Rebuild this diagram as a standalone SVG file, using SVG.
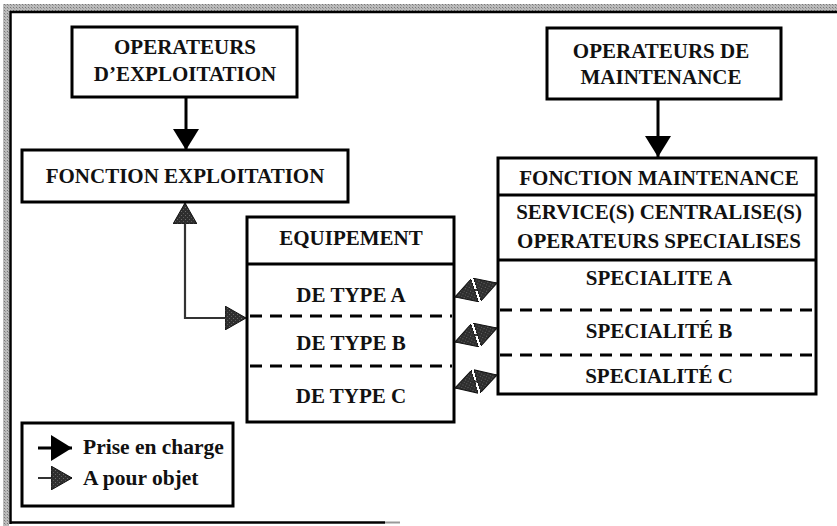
<svg xmlns="http://www.w3.org/2000/svg" width="837" height="526" viewBox="0 0 837 526">
<defs>
<style>
.box{fill:#fff;stroke:#000;stroke-width:3}
.div{stroke:#000;stroke-width:3;fill:none}
.dash{stroke:#000;stroke-width:3;stroke-dasharray:12 8;fill:none}
.t{font-family:"Liberation Serif","Times New Roman",serif;font-weight:bold;font-size:21px;fill:#111;text-anchor:middle}
.lg{font-family:"Liberation Serif","Times New Roman",serif;font-weight:bold;font-size:21.5px;fill:#111}
.pec{stroke:#000;stroke-width:3;fill:none}
.apo{stroke:#333;stroke-width:2.2;fill:none}
</style>
<pattern id="stip" width="4" height="4" patternUnits="userSpaceOnUse">
<rect width="4" height="4" fill="#2e2e2e"/>
<rect x="0" y="0" width="1" height="1" fill="#6a6a6a"/>
<rect x="2" y="2" width="1" height="1" fill="#5a5a5a"/>
</pattern>
<pattern id="frame" width="3" height="3" patternUnits="userSpaceOnUse">
<rect width="3" height="3" fill="#bbb"/>
<rect x="1" y="1" width="1" height="1" fill="#777"/>
<rect x="2" y="2" width="1" height="1" fill="#999"/>
</pattern>
<marker id="mPec" markerUnits="userSpaceOnUse" markerWidth="22" markerHeight="26" refX="21" refY="13" orient="auto-start-reverse" viewBox="0 0 22 26">
<path d="M0,0 L21,13 L0,26 Z" fill="#000"/>
</marker>
<marker id="mApo" markerUnits="userSpaceOnUse" markerWidth="22" markerHeight="24" refX="21" refY="12" orient="auto-start-reverse" viewBox="0 0 22 24">
<path d="M0,0 L21,12 L0,24 Z" fill="url(#stip)" stroke="#111" stroke-width="1"/>
</marker>
</defs>
<rect width="837" height="526" fill="#fff"/>
<g id="frame-border">
<rect x="3" y="4" width="834" height="7" fill="url(#frame)"/>
<rect x="3" y="4" width="6" height="522" fill="url(#frame)"/>
<line x1="10" y1="12" x2="837" y2="12" stroke="#000" stroke-width="2.5"/>
<line x1="10.5" y1="11" x2="10.5" y2="524" stroke="#000" stroke-width="2.5"/>
<line x1="10" y1="522.5" x2="385" y2="522.5" stroke="#000" stroke-width="2.5"/>
<line x1="385" y1="522.5" x2="400" y2="522.5" stroke="#999" stroke-width="2"/>
</g>
<g id="op-exploitation">
<rect class="box" x="72" y="27" width="225" height="70"/>
<text class="t" x="185" y="54">OPERATEURS</text>
<text class="t" x="185" y="81">D’EXPLOITATION</text>
</g>
<g id="op-maintenance">
<rect class="box" x="547" y="28" width="234" height="71"/>
<text class="t" x="661" y="58">OPERATEURS DE</text>
<text class="t" x="661" y="84">MAINTENANCE</text>
</g>
<g id="fonction-exploitation">
<rect class="box" x="22" y="150" width="326" height="52"/>
<text class="t" x="185" y="183">FONCTION EXPLOITATION</text>
</g>
<g id="fonction-maintenance">
<rect class="box" x="498" y="158" width="318" height="236"/>
<text class="t" x="659" y="185">FONCTION MAINTENANCE</text>
<line class="div" x1="498" y1="195" x2="816" y2="195"/>
<text class="t" x="659" y="219">SERVICE(S) CENTRALISE(S)</text>
<text class="t" x="659" y="248">OPERATEURS SPECIALISES</text>
<line class="div" x1="498" y1="260" x2="816" y2="260"/>
<text class="t" x="659" y="285">SPECIALITE A</text>
<line class="dash" x1="500" y1="310" x2="815" y2="310"/>
<text class="t" x="659" y="338">SPECIALITÉ B</text>
<line class="dash" x1="500" y1="355" x2="815" y2="355"/>
<text class="t" x="659" y="383">SPECIALITÉ C</text>
</g>
<g id="equipement">
<rect class="box" x="247" y="217" width="207" height="205"/>
<text class="t" x="351" y="245">EQUIPEMENT</text>
<line class="div" x1="247" y1="264" x2="454" y2="264"/>
<text class="t" x="351" y="302">DE TYPE A</text>
<line class="dash" x1="250" y1="316" x2="452" y2="316"/>
<text class="t" x="351" y="350">DE TYPE B</text>
<line class="dash" x1="250" y1="366" x2="452" y2="366"/>
<text class="t" x="351" y="403">DE TYPE C</text>
</g>
<g id="connectors">
<line class="pec" x1="186" y1="97" x2="186" y2="150" marker-end="url(#mPec)"/>
<line class="pec" x1="658" y1="99" x2="658" y2="157" marker-end="url(#mPec)"/>
<path class="apo" d="M185,203 L185,318 L246,318" marker-start="url(#mApo)" marker-end="url(#mApo)"/>
<line class="apo" x1="455" y1="297" x2="497" y2="283" marker-start="url(#mApo)" marker-end="url(#mApo)"/>
<line class="apo" x1="455" y1="342" x2="497" y2="328" marker-start="url(#mApo)" marker-end="url(#mApo)"/>
<line class="apo" x1="455" y1="388" x2="497" y2="375" marker-start="url(#mApo)" marker-end="url(#mApo)"/>
</g>
<g id="legend">
<rect class="box" x="22" y="423" width="211" height="83"/>
<line class="pec" x1="38" y1="448" x2="72" y2="448" marker-end="url(#mPec)"/>
<text class="lg" x="83" y="454">Prise en charge</text>
<line class="apo" x1="38" y1="478" x2="72" y2="478" marker-end="url(#mApo)"/>
<text class="lg" x="83" y="485">A pour objet</text>
</g>
</svg>
